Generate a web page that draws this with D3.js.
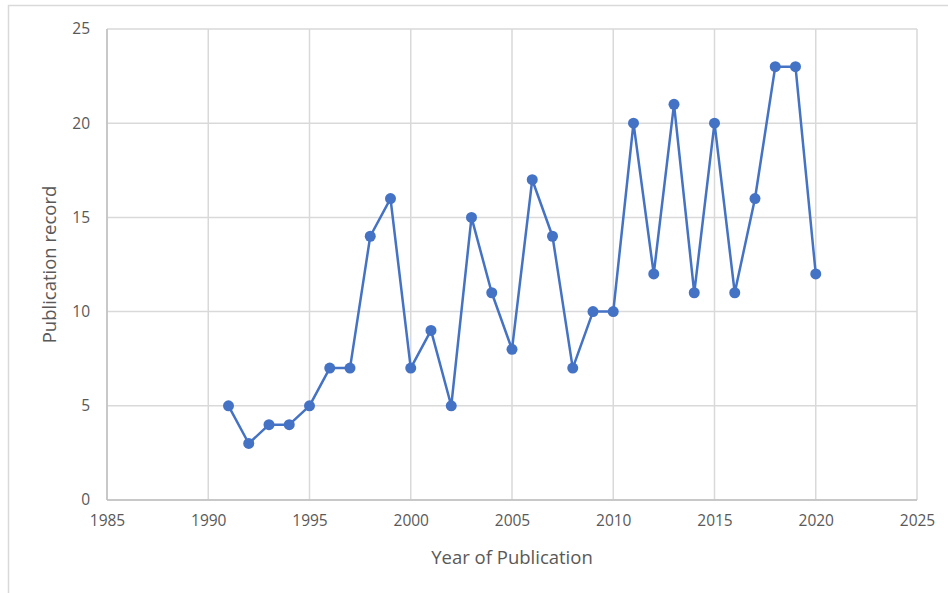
<!DOCTYPE html>
<html>
<head>
<meta charset="utf-8">
<script src="https://cdn.jsdelivr.net/npm/d3@7"></script>
<style>
  body { margin: 0; background: #fff; }
  svg text { font-family: "Open Sans", "Liberation Sans", sans-serif; fill: #595959; }
</style>
</head>
<body>
<svg id="chart"></svg>
<script>
const years = [1991, 1992, 1993, 1994, 1995, 1996, 1997, 1998, 1999, 2000,
  2001, 2002, 2003, 2004, 2005, 2006, 2007, 2008, 2009, 2010,
  2011, 2012, 2013, 2014, 2015, 2016, 2017, 2018, 2019, 2020];
const records = [5, 3, 4, 4, 5, 7, 7, 14, 16, 7,
  9, 5, 15, 11, 8, 17, 14, 7, 10, 10,
  20, 12, 21, 11, 20, 11, 16, 23, 23, 12];
const xTicks = [1985, 1990, 1995, 2000, 2005, 2010, 2015, 2020, 2025];
const yTicks = [0, 5, 10, 15, 20, 25];

const width = 948, height = 593;
const margin = { top: 29, right: 31, bottom: 93, left: 107 };
const innerW = width - margin.left - margin.right;
const innerH = height - margin.top - margin.bottom;

const svg = d3.select("#chart").attr("width", width).attr("height", height);

// outer chart frame (runs past the picture edges)
svg.append("rect")
  .attr("x", 8.5).attr("y", 5.5)
  .attr("width", width + 20).attr("height", height + 20)
  .attr("fill", "none").attr("stroke", "#d9d9d9").attr("stroke-width", 1.5);

const x = d3.scaleLinear().domain([1985, 2025]).range([0, innerW]);
const y = d3.scaleLinear().domain([0, 25]).range([innerH, 0]);

const g = svg.append("g").attr("transform", `translate(${margin.left},${margin.top})`);

// gridlines
g.append("g")
  .selectAll("line")
  .data(xTicks)
  .join("line")
  .attr("x1", d => x(d)).attr("x2", d => x(d))
  .attr("y1", 0).attr("y2", innerH)
  .attr("stroke", "#d9d9d9").attr("stroke-width", 1.5);

g.append("g")
  .selectAll("line")
  .data(yTicks)
  .join("line")
  .attr("x1", 0).attr("x2", innerW)
  .attr("y1", d => y(d)).attr("y2", d => y(d))
  .attr("stroke", "#d9d9d9").attr("stroke-width", 1.5);

// axis lines
g.append("line").attr("x1", 0).attr("x2", 0).attr("y1", 0).attr("y2", innerH)
  .attr("stroke", "#bfbfbf").attr("stroke-width", 1.5);
g.append("line").attr("x1", 0).attr("x2", innerW).attr("y1", innerH).attr("y2", innerH)
  .attr("stroke", "#bfbfbf").attr("stroke-width", 1.5);

const xAxis = d3.axisBottom(x).tickValues(xTicks).tickFormat(d3.format("d")).tickSize(0).tickPadding(15);
const yAxis = d3.axisLeft(y).tickValues(yTicks).tickSize(0).tickPadding(17);

g.append("g").attr("transform", `translate(0,${innerH})`).call(xAxis)
  .call(a => a.select(".domain").remove())
  .selectAll("text").attr("font-size", 15.5).attr("font-family", null);

g.append("g").call(yAxis)
  .call(a => a.select(".domain").remove())
  .selectAll("text").attr("font-size", 15.5).attr("font-family", null);

const data = years.map((yr, i) => ({ year: yr, value: records[i] }));

const line = d3.line().x(d => x(d.year)).y(d => y(d.value));

g.append("path")
  .datum(data)
  .attr("fill", "none")
  .attr("stroke", "#4472c4")
  .attr("stroke-width", 2.5)
  .attr("stroke-linejoin", "round")
  .attr("d", line);

g.selectAll(".point")
  .data(data)
  .join("circle")
  .attr("class", "point")
  .attr("cx", d => x(d.year))
  .attr("cy", d => y(d.value))
  .attr("r", 5.5)
  .attr("fill", "#4472c4");

// axis titles
svg.append("text")
  .attr("x", margin.left + innerW / 2).attr("y", 564)
  .attr("text-anchor", "middle").attr("font-size", 18.5)
  .text("Year of Publication");

svg.append("text")
  .attr("transform", `translate(56,${margin.top + innerH / 2}) rotate(-90)`)
  .attr("text-anchor", "middle").attr("font-size", 18.5)
  .text("Publication record");
</script>
</body>
</html>
